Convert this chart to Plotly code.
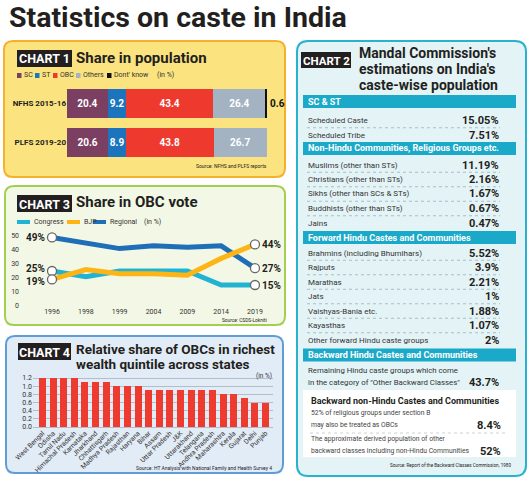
import plotly.graph_objects as go

W, H = 531, 483
FONT = "Roboto, Liberation Sans, sans-serif"
DARK = "#231F20"

# ---------------- Chart 1 data ----------------
surveys = ["NFHS 2015-16", "PLFS 2019-20"]
pop_groups = ["SC", "ST", "OBC", "Others", "Dont' know"]
pop_sc = [20.4, 20.6]
pop_st = [9.2, 8.9]
pop_obc = [43.4, 43.8]
pop_others = [26.4, 26.7]
pop_dk = [0.6, None]
pop_colors = ["#7B3F61", "#1C75BC", "#EE3A2E", "#A3B3C1", "#111111"]

# ---------------- Chart 3 data ----------------
years = ["1996", "1998", "1999", "2004", "2009", "2014", "2019"]
congress = [25, 21, 25, 25, 25, 15, 15]
bjp = [19, 26, 23, 23, 22, 34, 44]
regional = [49, 45, 41, 43, 42, 43, 27]
party_names = ["Congress", "BJP", "Regional"]
party_colors = ["#22B3D2", "#FDB515", "#1E6FB8"]

# ---------------- Chart 4 data ----------------
states = ["West Bengal", "Odisha", "Tamil Nadu", "Himachal Pradesh", "Karnataka",
          "Jharkhand", "Chhattisgarh", "Madhya Pradesh", "Rajasthan", "Haryana",
          "Bihar", "Assam", "Uttar Pradesh", "J&K", "Uttarakhand", "Telangana",
          "Andhra Pradesh", "Maharashtra", "Kerala", "Gujarat", "Delhi", "Punjab"]
obc_share = [1.2, 1.2, 1.2, 1.2, 1.1, 1.1, 1.1, 1.0, 1.0, 1.0, 0.9, 0.9, 0.9,
             0.9, 0.9, 0.9, 0.9, 0.8, 0.8, 0.7, 0.6, 0.6]

# ---------------- Chart 2 data ----------------
section_titles = ["SC & ST", "Non-Hindu Communities, Religious Groups etc.",
                  "Forward Hindu Castes and Communities",
                  "Backward Hindu Castes and Communities"]
sc_st_groups = ["Scheduled Caste", "Scheduled Tribe"]
sc_st_pct = [15.05, 7.51]
nonhindu_groups = ["Muslims (other than STs)", "Christians (other than STs)",
                   "Sikhs (other than SCs & STs)", "Buddhists (other than STs)", "Jains"]
nonhindu_pct = [11.19, 2.16, 1.67, 0.67, 0.47]
forward_groups = ["Brahmins (including Bhumihars)", "Rajputs", "Marathas", "Jats",
                  "Vaishyas-Bania etc.", "Kayasthas", "Other forward Hindu caste groups"]
forward_pct = [5.52, 3.9, 2.21, 1, 1.88, 1.07, 2]
backward_groups = ["Remaining Hindu caste groups which come\nin the category of \"Other Backward Classes\""]
backward_pct = [43.7]
nh_obc_title = "Backward non-Hindu Castes and Communities"
nh_obc_groups = ["52% of religious groups under section B\nmay also be treated as OBCs",
                 "The approximate derived population of other\nbackward classes including non-Hindu Communities"]
nh_obc_pct = [8.4, 52]


def X(x):
    return x / W


def Y(y):
    return 1 - y / H


def rrect(x0, y0, x1, y1, r):
    return (f"M {X(x0 + r)},{Y(y0)} L {X(x1 - r)},{Y(y0)} Q {X(x1)},{Y(y0)} {X(x1)},{Y(y0 + r)} "
            f"L {X(x1)},{Y(y1 - r)} Q {X(x1)},{Y(y1)} {X(x1 - r)},{Y(y1)} "
            f"L {X(x0 + r)},{Y(y1)} Q {X(x0)},{Y(y1)} {X(x0)},{Y(y1 - r)} "
            f"L {X(x0)},{Y(y0 + r)} Q {X(x0)},{Y(y0)} {X(x0 + r)},{Y(y0)} Z")


shapes = []
annotations = []


def panel(x0, y0, x1, y1, r, fill, line):
    shapes.append(dict(type="path", path=rrect(x0, y0, x1, y1, r), xref="paper", yref="paper",
                       fillcolor=fill, line=dict(color=line, width=2), layer="below"))


def box(x0, y0, x1, y1, fill, layer="below"):
    shapes.append(dict(type="rect", xref="paper", yref="paper", x0=X(x0), x1=X(x1),
                       y0=Y(y1), y1=Y(y0), fillcolor=fill, line=dict(width=0), layer=layer))


def hline(x0, x1, y, color, width=1, dash="solid"):
    shapes.append(dict(type="line", xref="paper", yref="paper", x0=X(x0), x1=X(x1),
                       y0=Y(y), y1=Y(y), line=dict(color=color, width=width, dash=dash), layer="below"))


def text(x, y, s, size, color=DARK, bold=False, anchor="left", family=FONT):
    annotations.append(dict(x=X(x), y=Y(y), xref="paper", yref="paper", text=s, showarrow=False,
                            xanchor=anchor, yanchor="middle", borderpad=0,
                            font=dict(family=family, size=size, color=color,
                                      weight="bold" if bold else "normal")))


# ---------------- Panels ----------------
panel(4, 41, 285, 177, 9, "#FBE37F", "#F5B02E")
panel(5, 186, 285, 325, 9, "#F3F8E6", "#A6CE4E")
panel(6, 336, 283, 473, 9, "#E2ECF7", "#5E9DD6")
panel(297, 41, 526, 476, 11, "#E4F3F6", "#28B2D0")

# main title
text(8, 18, "Statistics on caste in India", 28.5, DARK, True)

# chart labels
for (x0, y0, x1, y1, lab, fs) in [(17, 50, 72, 67, "CHART 1", 12.5), (17, 195, 72, 212, "CHART 3", 12.5),
                                  (18, 343, 71, 360, "CHART 4", 12.5), (301, 52, 351, 68, "CHART 2", 11.5)]:
    box(x0, y0, x1, y1, DARK)
    text((x0 + x1) / 2, (y0 + y1) / 2 + 0.5, lab, fs, "white", True, "center")

text(75, 58, "Share in population", 15, DARK, True)
text(75, 202, "Share in OBC vote", 15, DARK, True)
text(75, 349, "Relative share of OBCs in richest", 13.5, DARK, True)
text(75, 364, "wealth quintile across states", 13.5, DARK, True)
text(358, 53, "Mandal Commission's", 14, DARK, True)
text(358, 69, "estimations on India's", 14, DARK, True)
text(358, 85, "caste-wise population", 14, DARK, True)

# ---------------- Chart 1 ----------------
fig = go.Figure()
for name, vals, col in zip(pop_groups, [pop_sc, pop_st, pop_obc, pop_others, pop_dk], pop_colors):
    is_dk = name == "Dont' know"
    fig.add_trace(go.Bar(
        y=surveys, x=vals, orientation="h", name=name,
        marker=dict(color=col, line=dict(width=0)), width=0.74,
        xaxis="x", yaxis="y",
        text=[None if v is None else f"{v:.1f}" for v in vals],
        texttemplate="<b>%{text}</b>",
        textposition="outside" if is_dk else "inside",
        insidetextanchor="middle", textangle=0,
        textfont=dict(family=FONT, size=10, color="#111" if is_dk else "white"),
        constraintext="none", cliponaxis=False, showlegend=False, hoverinfo="skip"))

# chart 1 legend
leg1_x = [17, 35, 53, 76, 107]
for lx, name, col in zip(leg1_x, pop_groups, pop_colors):
    box(lx, 73, lx + 4.5, 78, col, layer="above")
    text(lx + 6, 75.5, name, 7, "#333")
text(156, 75.5, "(in %)", 7, "#333")
text(268, 166, "Source: NFHS and PLFS reports", 5, "#222", anchor="right")

# ---------------- Chart 3 ----------------
series3 = dict(zip(party_names, [congress, bjp, regional]))
colors3 = dict(zip(party_names, party_colors))
for name in ["Congress", "Regional", "BJP"]:
    fig.add_trace(go.Scatter(x=years, y=series3[name], mode="lines", name=name,
                             line=dict(color=colors3[name], width=5),
                             xaxis="x2", yaxis="y2", showlegend=False, hoverinfo="skip",
                             cliponaxis=False))
last = len(years) - 1
first_shift = {"Congress": 2.5, "BJP": -2.5, "Regional": 0}
for name in party_names:
    vals = series3[name]
    fig.add_trace(go.Scatter(x=[years[0], years[-1]], y=[vals[0], vals[-1]], mode="markers",
                             marker=dict(size=9, color="white", line=dict(color="#666", width=1.3)),
                             xaxis="x2", yaxis="y2", showlegend=False, hoverinfo="skip",
                             cliponaxis=False))
    annotations.append(dict(x=0, y=vals[0], xref="x2", yref="y2", text=f"{vals[0]}%",
                            showarrow=False, xanchor="right", yanchor="middle", xshift=-6,
                            yshift=first_shift[name], borderpad=0,
                            font=dict(family=FONT, size=10, color=DARK, weight="bold")))
    annotations.append(dict(x=last, y=vals[-1], xref="x2", yref="y2", text=f"{vals[-1]}%",
                            showarrow=False, xanchor="left", yanchor="middle", xshift=6,
                            borderpad=0,
                            font=dict(family=FONT, size=10, color=DARK, weight="bold")))

leg3_x = [17, 67, 93]
for lx, name, col in zip(leg3_x, party_names, party_colors):
    shapes.append(dict(type="line", xref="paper", yref="paper", x0=X(lx), x1=X(lx + 13),
                       y0=Y(222), y1=Y(222), line=dict(color=col, width=4), layer="above"))
    text(lx + 16, 222, name, 7, "#333")
text(143, 222, "(in %)", 7, "#333")
text(268, 320, "Source: CSDS-Lokniti", 4.8, "#222", anchor="right")

# ---------------- Chart 4 ----------------
fig.add_trace(go.Bar(x=states, y=obc_share, marker=dict(color="#EE3B2F", line=dict(width=0)),
                     width=0.66, xaxis="x3", yaxis="y3", showlegend=False, hoverinfo="skip"))
text(273, 376, "(in %)", 6.5, "#333", anchor="right")
text(273, 468, "Source: HT Analysis with National Family and Health Survey 4", 5, "#222",
     anchor="right")

# ---------------- Chart 2 table ----------------
HX0, HX1 = 303, 516
TX0, TX1 = 307, 500
STEP = 14.5
sections = [
    (section_titles[0], sc_st_groups, sc_st_pct, 101.5, 120.5),
    (section_titles[1], nonhindu_groups, nonhindu_pct, 148.5, 165),
    (section_titles[2], forward_groups, forward_pct, 237.5, 253),
]
for title, groups, pcts, hy, ry in sections:
    box(HX0, hy - 6.5, HX1, hy + 6.5, "#1BA9C9")
    text(TX0, hy, title, 9, "white", True)
    for i, (g, p) in enumerate(zip(groups, pcts)):
        y = ry + i * STEP
        text(TX0, y, g, 8, "#333")
        text(TX1, y, f"{p:g}%", 11, DARK, True, "right")
        if i < len(groups) - 1:
            hline(TX0, TX1, y + STEP / 2, "#A9BFC4", 1, "dot")

# backward hindu section
box(HX0, 348.5, HX1, 361.5, "#1BA9C9")
text(TX0, 355, section_titles[3], 9, "white", True)
for g, p in zip(backward_groups, backward_pct):
    lines = g.split("\n")
    for j, ln in enumerate(lines):
        text(TX0, 370 + j * 12, ln, 7.8, "#333")
    text(TX1, 382, f"{p:g}%", 11, DARK, True, "right")

# white box
box(HX0, 390, HX1, 457, "white")
text(310, 401, nh_obc_title, 9, DARK, True)
row_tops = [413, 439]
for k, (g, p, ty) in enumerate(zip(nh_obc_groups, nh_obc_pct, row_tops)):
    lines = g.split("\n")
    for j, ln in enumerate(lines):
        text(310, ty + j * 12, ln, 6.8, "#444")
    text(502, ty + 12, f"{p:g}%", 11, DARK, True, "right")
hline(310, 505, 433, "#C8D2D5", 1, "dot")
text(512, 465, "Source: Report of the Backward Classes Commission, 1980", 4.6, "#222", anchor="right")

# ---------------- Layout ----------------
axis_off = dict(showgrid=False, zeroline=False, showline=False, ticks="", automargin=False)
fig.update_layout(
    width=W, height=H, autosize=False,
    margin=dict(l=0, r=0, t=0, b=0, pad=0, autoexpand=False),
    paper_bgcolor="white", plot_bgcolor="rgba(0,0,0,0)",
    barmode="stack", showlegend=False,
    font=dict(family=FONT, color=DARK),
    xaxis=dict(domain=[X(67), X(267)], range=[0, 100], visible=False, anchor="y", automargin=False),
    yaxis=dict(domain=[Y(162), Y(84)], range=[1.5, -0.5], anchor="x",
               tickvals=surveys, ticktext=[f"<b>{s}</b>" for s in surveys],
               tickfont=dict(family=FONT, size=8, color=DARK), **axis_off),
    xaxis2=dict(domain=[X(20), X(267)], type="category", range=[-0.946, 6.355], anchor="y2",
                tickfont=dict(family=FONT, size=7, color="#333"), **axis_off),
    yaxis2=dict(domain=[Y(306), Y(230)], range=[0, 54.29], anchor="x2",
                tickvals=[0, 10, 20, 30, 40, 50],
                tickfont=dict(family=FONT, size=7, color="#333"), **axis_off),
    xaxis3=dict(domain=[X(33), X(273)], type="category", range=[-0.896, 21.707], anchor="y3",
                tickangle=-45, tickfont=dict(family=FONT, size=6.8, color="#333"), **axis_off),
    yaxis3=dict(domain=[Y(427), Y(376)], range=[0, 1.25], anchor="x3",
                tickvals=[0, 0.2, 0.4, 0.6, 0.8, 1.0, 1.2], tickformat=".1f",
                showgrid=True, gridcolor="#B4BEC8", gridwidth=0.8,
                zeroline=True, zerolinecolor="#B4BEC8", zerolinewidth=0.8,
                showline=False, ticks="", automargin=False,
                tickfont=dict(family=FONT, size=7, color="#333")),
    shapes=shapes, annotations=annotations,
)

fig.write_html("out.html", config={"displayModeBar": False},
               post_script="document.body.style.margin='0';")
